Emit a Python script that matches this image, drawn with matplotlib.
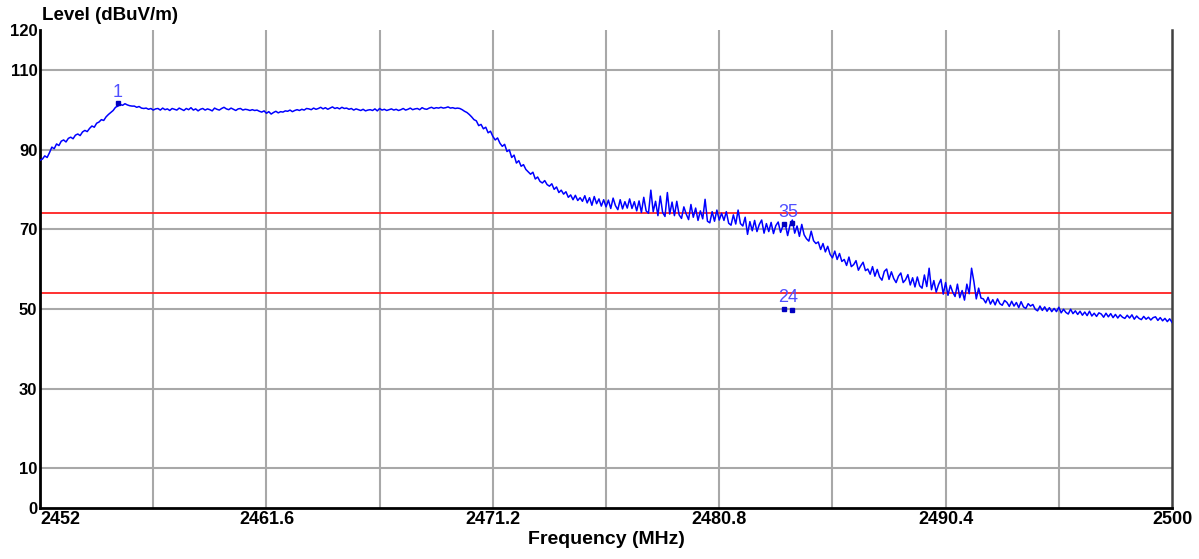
import numpy as np
import matplotlib
matplotlib.use("Agg")
import matplotlib.pyplot as plt

plt.rcParams['font.family'] = ['Liberation Sans', 'DejaVu Sans']

# sweep 2452..2500 MHz, 0.1 MHz steps; one row per MHz
level = [
    87.3, 87.6, 88.4, 88.0, 89.2, 90.6, 90.2, 91.4, 91.0, 92.1,
    92.4, 91.9, 92.8, 93.1, 92.7, 93.6, 93.9, 93.5, 94.4, 94.8,
    94.5, 95.3, 95.9, 95.6, 96.6, 96.9, 97.5, 97.3, 98.2, 98.8,
    99.3, 99.8, 100.6, 100.9, 101.3, 101.1, 101.5, 101.2, 101.0, 100.9,
    100.9, 100.6, 100.8, 100.4, 100.3, 100.4, 100.1, 100.3, 99.9, 100.2,
    100.3, 99.9, 100.4, 100.0, 100.2, 99.8, 100.3, 100.1, 99.9, 100.4,
    100.1, 99.8, 100.3, 100.0, 100.5, 99.9, 100.2, 99.7, 100.1, 100.3,
    99.9, 100.2, 100.0, 99.7, 100.4, 100.1, 99.9, 100.3, 100.6, 100.2,
    100.0, 100.4, 100.1, 99.8, 100.2, 100.3, 99.9, 100.1, 100.0, 99.8,
    100.0, 99.8, 99.9, 99.6, 99.4, 99.7, 99.1, 99.5, 98.9, 99.3,
    99.6, 99.2, 99.5, 99.4, 99.7, 99.6, 99.9, 99.5, 99.8, 100.0,
    99.8, 100.1, 99.9, 100.3, 100.2, 100.0, 100.4, 100.1, 100.3, 100.6,
    100.2, 100.5, 100.1, 100.4, 100.7, 100.3, 100.5, 100.2, 100.6, 100.3,
    100.4, 100.1, 100.3, 99.9, 100.2, 100.0, 99.8, 100.1, 99.7, 99.9,
    100.0, 99.8, 100.2, 99.7, 100.3, 99.9, 100.1, 99.8, 100.0, 100.2,
    99.9, 100.1, 99.8, 100.0, 100.3, 99.9, 100.1, 100.4, 100.0, 100.2,
    100.3, 100.0, 100.5, 100.2, 100.1, 100.4, 100.6, 100.3, 100.5, 100.4,
    100.6, 100.4, 100.5, 100.7, 100.4, 100.5, 100.3, 100.4, 100.3, 100.0,
    99.6, 99.3, 98.8, 98.2, 97.5, 97.2, 96.0, 96.3, 95.2, 95.6,
    94.2, 94.6, 93.3, 92.4, 92.9, 91.6, 90.8, 91.3, 89.5, 89.9,
    88.0, 88.6, 86.6, 87.2, 85.8, 86.2, 85.0, 84.4, 83.8, 84.3,
    82.6, 83.1, 82.0, 81.6, 82.2, 81.2, 80.8, 81.4, 80.0, 80.6,
    79.2, 79.8, 78.8, 79.4, 78.0, 78.6, 77.4, 78.5, 77.2, 77.9,
    77.0, 78.4, 76.6, 77.9, 76.0, 78.2, 76.4, 77.6, 75.8, 77.4,
    75.6, 77.3, 75.2, 77.8, 75.9, 74.9, 77.4, 75.1, 76.9, 75.3,
    77.6, 75.2, 76.9, 74.6, 77.1, 74.2, 78.0, 74.6, 74.0, 79.8,
    74.4, 77.0, 73.4, 78.3, 74.2, 73.2, 79.2, 73.8, 76.8, 73.4,
    77.0, 73.6, 72.7, 75.6, 73.8, 72.4, 76.2, 73.0, 75.3, 72.2,
    74.6, 72.6, 77.5, 72.0, 71.6, 74.4, 72.0, 74.8, 72.3, 74.0,
    72.2, 74.4, 71.5, 71.0, 73.6, 71.3, 74.8, 71.4, 70.8, 73.0,
    68.7, 71.9, 69.6, 72.2, 69.4, 71.2, 72.3, 69.0, 71.4, 69.4,
    71.7, 68.9, 70.9, 71.8, 69.2, 70.8, 71.3, 68.4, 71.0, 72.3,
    69.0, 70.8, 68.2, 71.2, 68.6, 67.6, 67.0, 69.5, 67.1, 66.4,
    66.8, 64.9, 66.4, 64.3, 65.7, 63.7, 62.8, 64.5, 62.4, 63.9,
    61.9, 62.4, 60.9, 63.0, 60.6, 61.1, 62.1, 59.7, 60.8, 61.7,
    59.6, 60.0, 58.7, 60.6, 58.2, 59.9, 58.0, 57.2, 59.4, 60.0,
    57.4, 59.3, 57.6, 56.6, 58.2, 59.0, 56.6, 57.3, 58.6, 56.0,
    57.8, 55.5, 58.0, 55.8, 55.2, 58.5, 55.6, 60.2, 54.8, 57.1,
    54.2, 56.1, 57.4, 53.7, 56.6, 53.4, 55.9, 54.2, 53.1, 56.2,
    52.8, 54.6, 52.2, 56.2, 53.8, 60.2, 56.8, 52.5, 55.2, 52.7,
    52.5, 51.5, 52.9, 51.2, 52.3, 51.0, 52.5, 51.3, 50.9, 52.1,
    51.6, 50.6, 51.9, 50.7, 51.6, 50.3, 51.8, 50.5, 50.1, 51.3,
    50.7, 51.1, 49.9, 49.5, 50.7, 49.6, 50.5, 49.4, 50.3, 49.3,
    50.1, 49.3, 50.4, 49.0, 49.9, 49.1, 48.7, 49.9, 48.8, 49.5,
    48.6, 49.4, 48.4, 49.2, 48.3, 49.4, 48.2, 48.9, 48.1, 49.0,
    48.7, 47.9, 48.9, 48.0, 48.8, 47.8, 48.6, 47.7, 48.5, 47.9,
    47.6, 48.4, 47.7, 48.5, 47.4, 48.2, 47.6, 47.3, 48.1, 47.4,
    47.9, 47.2, 47.8, 48.0, 47.1, 47.8, 47.0, 47.6, 46.8, 47.5,
    46.6,
]
freq = np.linspace(2452, 2500, len(level))

limit_lines = [74, 54]

marker_ids = ['1', '2', '3', '4', '5']
marker_freq = [2455.3, 2483.55, 2483.55, 2483.9, 2483.9]
marker_level = [101.6, 50.0, 71.4, 49.8, 71.6]

x_grid = [2452 + 4.8 * i for i in range(11)]
x_labels = ['2452', '', '2461.6', '', '2471.2', '', '2480.8', '', '2490.4', '', '2500']
y_grid = [10, 30, 50, 70, 90, 110]
y_ticks = [0, 10, 30, 50, 70, 90, 110, 120]

fig = plt.figure(figsize=(11.99, 5.59), dpi=100)
ax = fig.add_axes([0.0334, 0.0912, 0.9441, 0.8551])

for g in x_grid[1:-1]:
    ax.axvline(g, color='#a8a8a8', lw=1.5, zorder=1)
for g in y_grid:
    ax.axhline(g, color='#a8a8a8', lw=1.5, zorder=1)
for lim in limit_lines:
    ax.axhline(lim, color='#ff2020', lw=1.3, zorder=2)

ax.plot(freq, level, color='#0000ff', lw=1.1, zorder=3)

# markers
for mid, mf, ml in zip(marker_ids, marker_freq, marker_level):
    ax.plot(mf, ml, 's', color='#0000c0', ms=3, zorder=4)
# labels 3/5 and 2/4 sit side by side
ax.annotate('1', (marker_freq[0], marker_level[0]), xytext=(0, 2),
            textcoords='offset points', ha='center', va='bottom',
            color='#5050ff', fontsize=13, zorder=5)
ax.annotate('35', (np.mean(marker_freq[2::2]), marker_level[4]), xytext=(0, 1),
            textcoords='offset points', ha='center', va='bottom',
            color='#5050ff', fontsize=13, zorder=5)
ax.annotate('24', (np.mean(marker_freq[1::2]), marker_level[1]), xytext=(0, 2),
            textcoords='offset points', ha='center', va='bottom',
            color='#5050ff', fontsize=13, zorder=5)

ax.set_xlim(2452, 2500)
ax.set_ylim(0, 120)
ax.set_xticks(x_grid)
ax.set_xticklabels(x_labels, fontsize=13, fontweight='bold')
ax.set_yticks(y_ticks)
ax.set_yticklabels([str(v) for v in y_ticks], fontsize=12, fontweight='bold')
ax.tick_params(length=0, pad=2)
ax.get_xticklabels()[0].set_ha('left')

for s in ['left', 'bottom']:
    ax.spines[s].set_linewidth(2)
    ax.spines[s].set_color('black')
ax.spines['right'].set_linewidth(1.8)
ax.spines['right'].set_color('#404040')
ax.spines['top'].set_visible(False)

ax.set_xlabel('Frequency (MHz)', fontsize=14, fontweight='bold', labelpad=2)
fig.text(42 / 1199, 1 - 16 / 559, 'Level (dBuV/m)', fontsize=13.5,
         fontweight='bold', ha='left', va='center')

fig.savefig('out.png', dpi=100)
